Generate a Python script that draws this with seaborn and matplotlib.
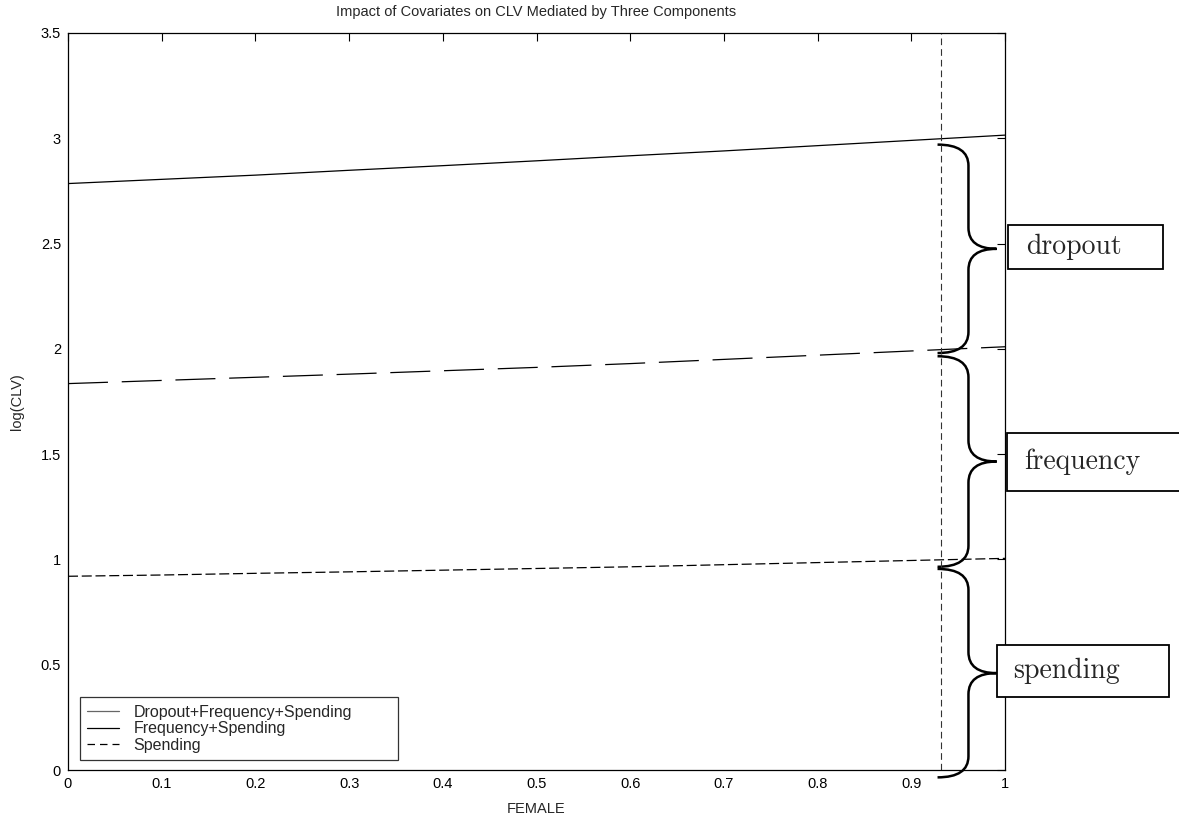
import numpy as np
import pandas as pd
import matplotlib
matplotlib.use("Agg")
import matplotlib.pyplot as plt
from matplotlib.path import Path
from matplotlib.patches import PathPatch, Rectangle
from matplotlib.lines import Line2D
import seaborn as sns

# ---- data ----
female = [0.0, 0.1, 0.2, 0.3, 0.4, 0.5, 0.6, 0.7, 0.8, 0.9, 1.0]
dfs = [2.785, 2.805, 2.825, 2.848, 2.870, 2.893, 2.917, 2.940, 2.965, 2.990, 3.015]
fs = [1.835, 1.850, 1.865, 1.880, 1.896, 1.912, 1.930, 1.950, 1.970, 1.990, 2.010]
sp = [0.920, 0.926, 0.934, 0.941, 0.949, 0.957, 0.965, 0.975, 0.985, 0.995, 1.005]
legend_labels = ["Dropout+Frequency+Spending", "Frequency+Spending", "Spending"]
vline_x = 0.932
brace_names = ["dropout", "frequency", "spending"]
brace_top = [2.97, 1.965, 0.955]
brace_bottom = [1.98, 0.965, -0.035]
xticks = [0, 0.1, 0.2, 0.3, 0.4, 0.5, 0.6, 0.7, 0.8, 0.9, 1]
yticks = [0, 0.5, 1, 1.5, 2, 2.5, 3, 3.5]

df = pd.DataFrame({"FEMALE": female, "dfs": dfs, "fs": fs, "sp": sp})

sns.set_style("white")
plt.rcParams["font.family"] = ["Liberation Sans", "DejaVu Sans"]

W, H = 1179, 826
fig = plt.figure(figsize=(W / 100, H / 100), dpi=100)
ax = fig.add_axes([68 / W, 1 - 770 / H, (1005 - 68) / W, (770 - 33) / H])

sns.lineplot(data=df, x="FEMALE", y="dfs", ax=ax, color="black", linewidth=0.9)
sns.lineplot(data=df, x="FEMALE", y="fs", ax=ax, color="black", linewidth=0.9,
             dashes=False, linestyle=(0, (32, 11)))
sns.lineplot(data=df, x="FEMALE", y="sp", ax=ax, color="black", linewidth=0.9,
             linestyle=(0, (8, 3)))
ax.axvline(vline_x, color="#333333", linewidth=0.8, linestyle=(0, (6, 3.6)))

ax.set_xlim(0, 1)
ax.set_ylim(0, 3.5)
ax.set_xticks(xticks)
ax.set_yticks(yticks)
ax.set_xticklabels([f"{t:g}" for t in xticks])
ax.set_yticklabels([f"{t:g}" for t in yticks])
ax.tick_params(direction="in", length=6, width=0.8, top=True, right=True,
               labelsize=10.5, pad=5, colors="black")
for s in ax.spines.values():
    s.set_visible(True)
    s.set_color("black")
    s.set_linewidth(0.9)
ax.set_xlabel("FEMALE", fontsize=10.5, labelpad=8)
ax.set_ylabel("log(CLV)", fontsize=10.5, labelpad=12)
ax.set_title("Impact of Covariates on CLV Mediated by Three Components", fontsize=10.5, pad=12)

handles = [Line2D([], [], color="#666666", linewidth=0.9),
           Line2D([], [], color="black", linewidth=0.9),
           Line2D([], [], color="black", linewidth=0.9, linestyle=(0, (6, 4)))]
leg = ax.legend(handles, legend_labels, loc="lower left", fontsize=11.5,
                bbox_to_anchor=(12 / 937, 10 / 737, 318 / 937, 63 / 737), mode="expand",
                frameon=True, fancybox=False, edgecolor="black",
                borderaxespad=0.0, handlelength=2.0, labelspacing=0.1,
                borderpad=0.45, handletextpad=0.9)
leg.get_frame().set_linewidth(0.9)

# ---- braces ----
xl, xm, xt = 0.928, 0.961, 0.991
r = 0.1
for top, bot in zip(brace_top, brace_bottom):
    yc = (top + bot) / 2
    verts = [(xl, top), (xm, top), (xm, top - r),
             (xm, yc + r),
             (xm, yc), (xt, yc),
             (xm, yc), (xm, yc - r),
             (xm, bot + r),
             (xm, bot), (xl, bot)]
    codes = [Path.MOVETO, Path.CURVE3, Path.CURVE3,
             Path.LINETO,
             Path.CURVE3, Path.CURVE3,
             Path.CURVE3, Path.CURVE3,
             Path.LINETO,
             Path.CURVE3, Path.CURVE3]
    ax.add_patch(PathPatch(Path(verts, codes), facecolor="none",
                           edgecolor="black", linewidth=1.8, clip_on=False))

# ---- labelled boxes (pixel geometry) ----
boxes = [(1008, 225, 1163, 269, 1026), (1007, 433, 1185, 491, 1024), (997, 645, 1169, 697, 1013)]
for name, (x0, y0, x1, y1, tx) in zip(brace_names, boxes):
    fig.patches.append(Rectangle((x0 / W, 1 - y1 / H), (x1 - x0) / W, (y1 - y0) / H,
                                 transform=fig.transFigure, facecolor="white",
                                 edgecolor="black", linewidth=1.3, zorder=5))
    fig.text(tx / W, 1 - ((y0 + y1) / 2) / H, name, fontfamily="cmr10",
             fontsize=20, va="center", ha="left", zorder=6)

fig.savefig("out.png", dpi=100, facecolor="white")
